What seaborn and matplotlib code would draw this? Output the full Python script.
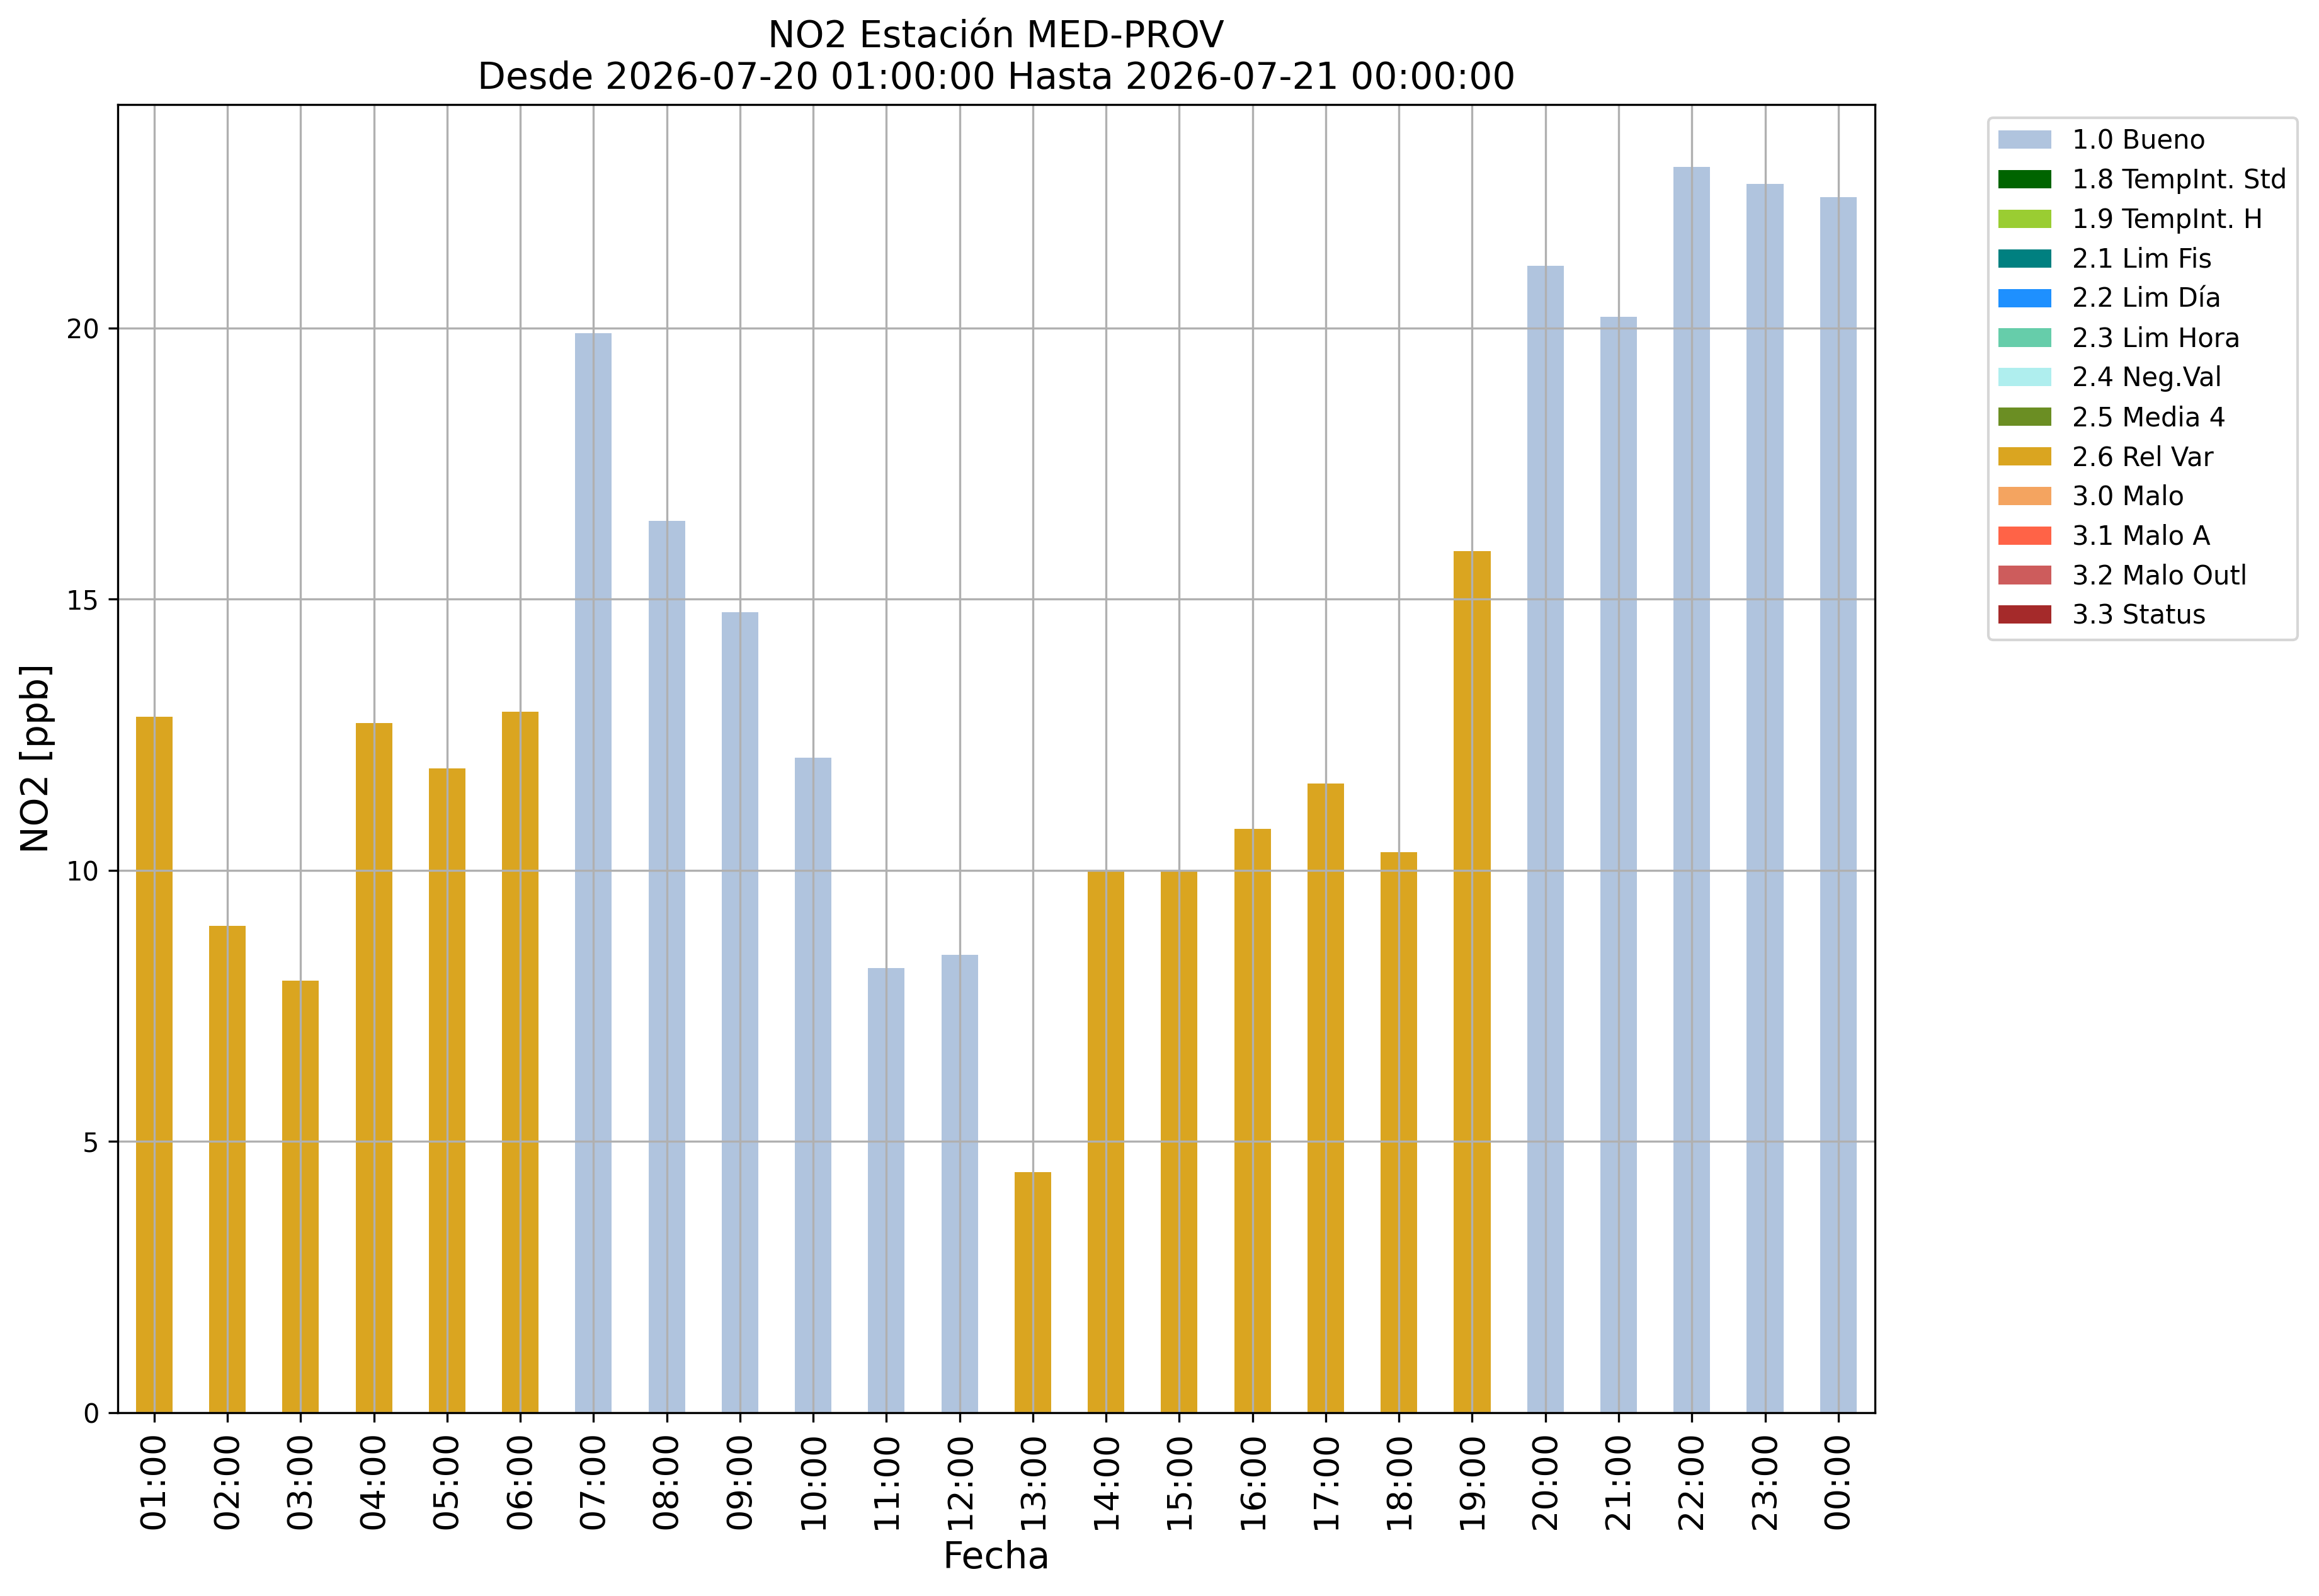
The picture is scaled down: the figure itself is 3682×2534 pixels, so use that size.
import matplotlib
matplotlib.use("Agg")
import matplotlib.pyplot as plt
from matplotlib.patches import Patch
import seaborn as sns
import pandas as pd

# ---- data ----
horas = ["01:00", "02:00", "03:00", "04:00", "05:00", "06:00", "07:00", "08:00",
         "09:00", "10:00", "11:00", "12:00", "13:00", "14:00", "15:00", "16:00",
         "17:00", "18:00", "19:00", "20:00", "21:00", "22:00", "23:00", "00:00"]
valores = [12.83, 8.97, 7.97, 12.72, 11.88, 12.92, 19.9, 16.44, 14.76, 12.08,
           8.2, 8.44, 4.43, 10.0, 10.0, 10.76, 11.6, 10.33, 15.88, 21.15,
           20.2, 22.97, 22.66, 22.41]
flags = ["2.6 Rel Var"] * 6 + ["1.0 Bueno"] * 6 + ["2.6 Rel Var"] * 7 + ["1.0 Bueno"] * 5

categorias = ["1.0 Bueno", "1.8 TempInt. Std", "1.9 TempInt. H", "2.1 Lim Fis",
              "2.2 Lim Día", "2.3 Lim Hora", "2.4 Neg.Val", "2.5 Media 4",
              "2.6 Rel Var", "3.0 Malo", "3.1 Malo A", "3.2 Malo Outl", "3.3 Status"]
colores = ["lightsteelblue", "darkgreen", "yellowgreen", "teal", "dodgerblue",
           "mediumaquamarine", "paleturquoise", "olivedrab", "goldenrod",
           "sandybrown", "tomato", "indianred", "brown"]

titulo = "NO2 Estación MED-PROV\nDesde 2026-07-20 01:00:00 Hasta 2026-07-21 00:00:00"

df = pd.DataFrame({"Fecha": horas, "valor": valores, "flag": flags})
palette = dict(zip(categorias, colores))

fig, ax = plt.subplots(figsize=(3682 / 300, 2534 / 300), dpi=300)
fig.subplots_adjust(left=0.0507, right=0.8085, top=0.9345, bottom=0.1149)

sns.barplot(data=df, x="Fecha", y="valor", hue="flag", order=horas,
            hue_order=[c for c in categorias if c in flags],
            palette=palette, dodge=False, width=0.5, saturation=1,
            legend=False, ax=ax)

ax.grid(True, color="#b0b0b0", linewidth=0.8)
ax.set_axisbelow("line")
ax.set_xlim(-0.5, len(horas) - 0.5)

ax.tick_params(axis="x", labelrotation=90, labelsize=13)
ax.tick_params(axis="y", labelsize=10)
ax.set_xlabel("Fecha", fontsize=14)
ax.set_ylabel("NO2 [ppb]", fontsize=14)
ax.set_title(titulo, fontsize=14)

handles = [Patch(facecolor=palette[c], label=c) for c in categorias]
ax.legend(handles=handles, loc="upper left", bbox_to_anchor=(1.057, 1),
          fontsize=10)

fig.savefig("out.png", dpi=300)
